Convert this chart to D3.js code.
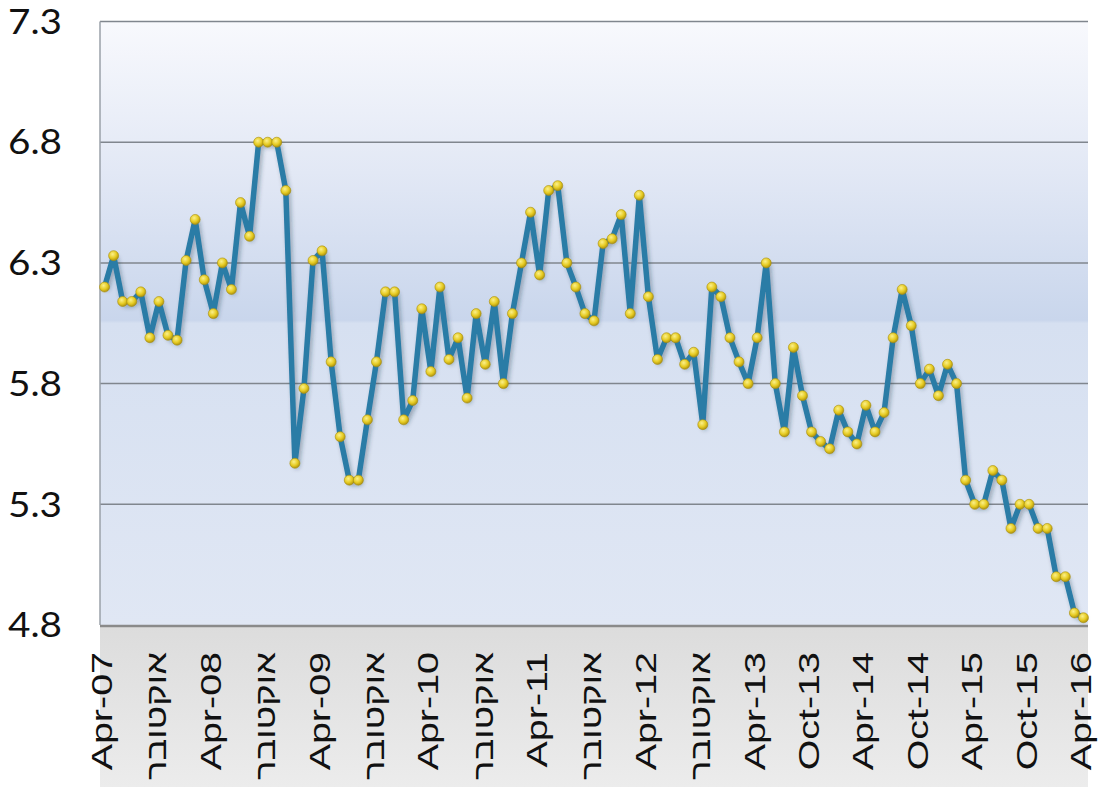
<!DOCTYPE html>
<head>
    <meta charset="utf-8">
    <script src="https://d3js.org/d3.v7.min.js"></script>
    <style>
        body { margin: 0; background: #fff; }
    </style>
</head>
<body>
<svg></svg>
</body>

<script>
    // Monthly values, Apr-07 .. Apr-16
    var values = [
        6.20, 6.33, 6.14, 6.14, 6.18, 5.99, 6.14, 6.00, 5.98, 6.31, 6.48, 6.23,
        6.09, 6.30, 6.19, 6.55, 6.41, 6.80, 6.80, 6.80, 6.60, 5.47, 5.78, 6.31,
        6.35, 5.89, 5.58, 5.40, 5.40, 5.65, 5.89, 6.18, 6.18, 5.65, 5.73, 6.11,
        5.85, 6.20, 5.90, 5.99, 5.74, 6.09, 5.88, 6.14, 5.80, 6.09, 6.30, 6.51,
        6.25, 6.60, 6.62, 6.30, 6.20, 6.09, 6.06, 6.38, 6.40, 6.50, 6.09, 6.58,
        6.16, 5.90, 5.99, 5.99, 5.88, 5.93, 5.63, 6.20, 6.16, 5.99, 5.89, 5.80,
        5.99, 6.30, 5.80, 5.60, 5.95, 5.75, 5.60, 5.56, 5.53, 5.69, 5.60, 5.55,
        5.71, 5.60, 5.68, 5.99, 6.19, 6.04, 5.80, 5.86, 5.75, 5.88, 5.80, 5.40,
        5.30, 5.30, 5.44, 5.40, 5.20, 5.30, 5.30, 5.20, 5.20, 5.00, 5.00, 4.85,
        4.83
    ];

    // Category labels shown every six months
    var tickLabels = [
        "Apr-07", "אוקטובר", "Apr-08", "אוקטובר", "Apr-09", "אוקטובר", "Apr-10",
        "אוקטובר", "Apr-11", "אוקטובר", "Apr-12", "אוקטובר", "Apr-13", "Oct-13",
        "Apr-14", "Oct-14", "Apr-15", "Oct-15", "Apr-16"
    ];
    var yTicks = [4.8, 5.3, 5.8, 6.3, 6.8, 7.3];

    // Variables
    var width = 1102;
    var height = 787;
    var pLeft = 100, pRight = 1088, pTop = 21.5, pBottom = 625;

    var svg = d3.select('svg')
        .attr('width', width)
        .attr('height', height);

    var defs = svg.append('defs');

    // plot background gradient
    var bg = defs.append('linearGradient').attr('id', 'bg')
        .attr('x1', 0).attr('y1', 0).attr('x2', 0).attr('y2', 1);
    bg.append('stop').attr('offset', '0').attr('stop-color', '#f8f9fd');
    bg.append('stop').attr('offset', '0.25').attr('stop-color', '#e2e8f5');
    bg.append('stop').attr('offset', '0.495').attr('stop-color', '#c9d6ec');
    bg.append('stop').attr('offset', '0.5').attr('stop-color', '#d6e0f1');
    bg.append('stop').attr('offset', '1').attr('stop-color', '#e0e7f4');

    var band = defs.append('linearGradient').attr('id', 'band')
        .attr('x1', 0).attr('y1', 0).attr('x2', 0).attr('y2', 1);
    band.append('stop').attr('offset', '0').attr('stop-color', '#dcdcdc');
    band.append('stop').attr('offset', '1').attr('stop-color', '#ececec');

    var dot = defs.append('radialGradient').attr('id', 'dot')
        .attr('cx', '40%').attr('cy', '35%').attr('r', '65%');
    dot.append('stop').attr('offset', '0').attr('stop-color', '#fbf08a');
    dot.append('stop').attr('offset', '0.6').attr('stop-color', '#e6cb22');
    dot.append('stop').attr('offset', '1').attr('stop-color', '#b09410');

    var shadow = defs.append('filter').attr('id', 'shadow')
        .attr('x', '-5%').attr('y', '-5%').attr('width', '110%').attr('height', '110%');
    shadow.append('feDropShadow')
        .attr('dx', 2).attr('dy', 3).attr('stdDeviation', 2)
        .attr('flood-color', '#203040').attr('flood-opacity', 0.35);

    // Scales
    var months = d3.range(values.length);
    var x = d3.scalePoint()
        .domain(months)
        .range([pLeft, pRight])
        .padding(0.5);
    var y = d3.scaleLinear()
        .domain([4.8, 7.3])
        .range([pBottom, pTop]);

    // backgrounds
    svg.append('rect')
        .attr('x', pLeft).attr('y', pBottom)
        .attr('width', pRight - pLeft).attr('height', height - pBottom)
        .attr('fill', 'url(#band)');
    svg.append('rect')
        .attr('x', pLeft).attr('y', pTop)
        .attr('width', pRight - pLeft).attr('height', pBottom - pTop)
        .attr('fill', 'url(#bg)');

    // Gridlines
    svg.append('g')
        .selectAll('line')
        .data(yTicks.slice(1))
        .enter().append('line')
        .attr('x1', pLeft).attr('x2', pRight)
        .attr('y1', function (d) { return y(d); })
        .attr('y2', function (d) { return y(d); })
        .style('stroke', '#80868e')
        .style('stroke-width', 1.5);

    // axes lines
    svg.append('line')
        .attr('x1', pLeft).attr('x2', pLeft)
        .attr('y1', pTop).attr('y2', pBottom)
        .style('stroke', '#9aa0a8').style('stroke-width', 1.5);
    svg.append('line')
        .attr('x1', pLeft).attr('x2', pRight)
        .attr('y1', pBottom + 1).attr('y2', pBottom + 1)
        .style('stroke', '#8a8a8a').style('stroke-width', 2.5);

    // Y axis labels
    svg.append('g')
        .selectAll('text')
        .data(yTicks)
        .enter().append('text')
        .attr('x', 62)
        .attr('y', function (d) { return y(d); })
        .attr('dy', '0.36em')
        .attr('text-anchor', 'end')
        .attr('textLength', 54)
        .attr('lengthAdjust', 'spacingAndGlyphs')
        .style('font-family', 'Lato, sans-serif')
        .style('font-size', '34px')
        .style('fill', '#111')
        .text(function (d) { return d3.format('.1f')(d); });

    // X axis labels (every 6 months), Hebrew ones squeezed to fit
    svg.append('g')
        .selectAll('text')
        .data(tickLabels)
        .enter().append('text')
        .attr('dy', '0.36em')
        .attr('text-anchor', 'end')
        .style('font-family', '"Liberation Sans", Arial, sans-serif')
        .style('font-size', '29px')
        .style('fill', '#111')
        .text(function (d) { return d; })
        .attr('transform', function (d, i) {
            var s = 1.36;
            if (/[\u0590-\u05FF]/.test(d)) s = 128 / this.getComputedTextLength();
            return 'translate(' + (x(i * 6) - 3) + ',652) rotate(-90) scale(' + s + ',1)';
        });

    // Line
    var line = d3.line()
        .x(function (d, i) { return x(i); })
        .y(function (d) { return y(d); });

    svg.append('path')
        .datum(values)
        .attr('d', line)
        .attr('filter', 'url(#shadow)')
        .style('fill', 'none')
        .style('stroke', '#2b7ba6')
        .style('stroke-width', 5.5)
        .style('stroke-linejoin', 'round');

    // Markers
    svg.append('g')
        .selectAll('circle')
        .data(values)
        .enter().append('circle')
        .attr('cx', function (d, i) { return x(i); })
        .attr('cy', function (d) { return y(d); })
        .attr('r', 5)
        .style('fill', 'url(#dot)')
        .style('stroke', '#a88e10')
        .style('stroke-width', 0.6);
</script>
